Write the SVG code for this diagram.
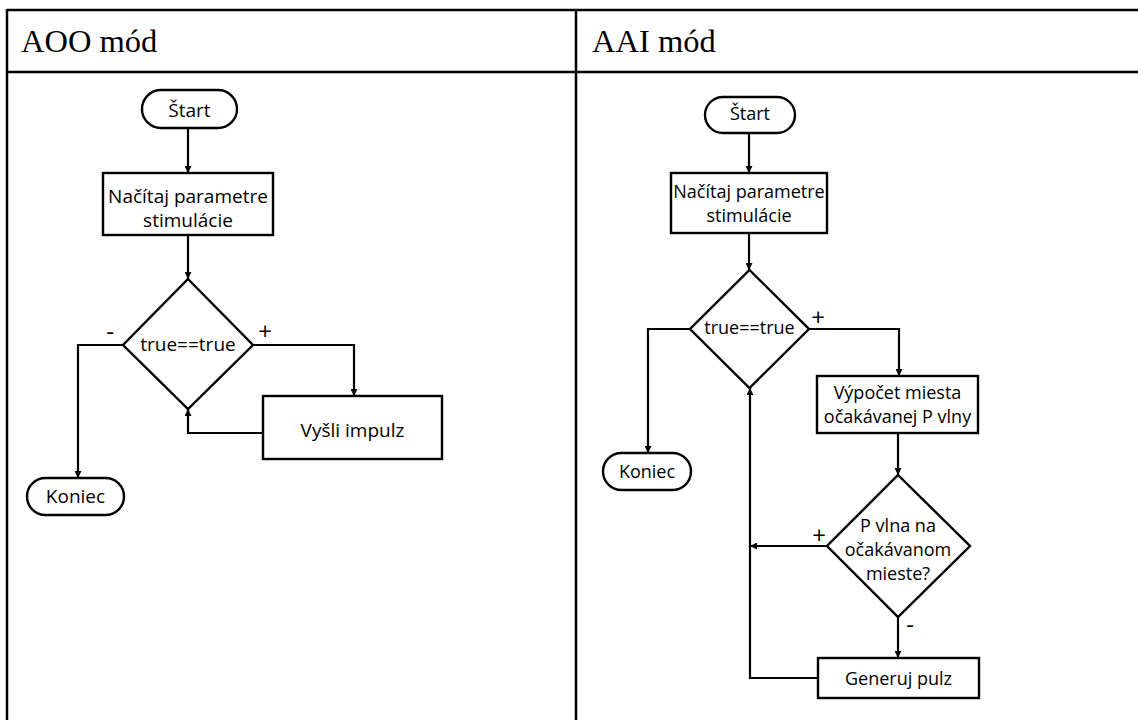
<svg xmlns="http://www.w3.org/2000/svg" width="1138" height="720" viewBox="0 0 1138 720">
<defs>
<marker id="arr" viewBox="0 0 10 10" refX="10" refY="5" markerWidth="7" markerHeight="7" markerUnits="userSpaceOnUse" orient="auto">
<path d="M0,0 L10,5 L0,10 z" fill="#000"/>
</marker>
<style>
.tbl{stroke:#000;stroke-width:2.5;fill:none}
.hd{font-family:"Liberation Serif",serif;font-size:32.5px;fill:#000}
.sh{fill:#fff;stroke:#000;stroke-width:2.4}
.c{fill:none;stroke:#000;stroke-width:2.2;marker-end:url(#arr)}
.t{font-family:"Open Sans","Liberation Sans",sans-serif;font-size:19px;fill:#000;text-anchor:middle}
.t2{font-family:"Open Sans","Liberation Sans",sans-serif;font-size:18px;fill:#000;text-anchor:middle}
.lb{font-family:"Open Sans","Liberation Sans",sans-serif;font-size:24px;fill:#000;text-anchor:middle}
</style>
</defs>
<rect width="1138" height="720" fill="#fff"/>
<g id="table">
<line class="tbl" x1="7" y1="10" x2="1138" y2="10"/>
<line class="tbl" x1="7" y1="72" x2="1138" y2="72"/>
<line class="tbl" x1="7" y1="9" x2="7" y2="720"/>
<line class="tbl" x1="576" y1="9" x2="576" y2="720"/>
<text class="hd" x="21" y="52">AOO mód</text>
<text class="hd" x="592" y="52">AAI mód</text>
</g>
<g id="connectors">
<line class="c" x1="188" y1="128" x2="188" y2="173"/>
<line class="c" x1="188" y1="235" x2="188" y2="279"/>
<polyline class="c" points="123,345 78,345 78,478"/>
<polyline class="c" points="253,345 354,345 354,396"/>
<polyline class="c" points="263,433 188,433 188,409"/>
<line class="c" x1="749" y1="133" x2="749" y2="173"/>
<line class="c" x1="749" y1="233" x2="749" y2="270"/>
<polyline class="c" points="690,329 648,329 648,453"/>
<polyline class="c" points="809,329 899,329 899,376"/>
<line class="c" x1="898" y1="433" x2="898" y2="475"/>
<line class="c" x1="827" y1="546" x2="750" y2="546"/>
<line class="c" x1="898" y1="617" x2="898" y2="658"/>
<polyline class="c" points="818,678 750,678 750,388"/>
<text class="lb" x="110" y="340">-</text>
<text class="lb" x="265" y="340">+</text>
<text class="lb" x="818" y="326">+</text>
<text class="lb" x="819" y="544">+</text>
<text class="lb" x="910" y="633">-</text>
</g>
<g id="l-start">
<rect class="sh" x="142" y="90" width="95" height="38" rx="19"/>
<text class="t" x="189.5" y="117">Štart</text>
</g>
<g id="l-load">
<rect class="sh" x="103" y="173" width="170" height="62"/>
<text class="t" x="188" y="203">Načítaj parametre</text>
<text class="t" x="188" y="227">stimulácie</text>
</g>
<g id="l-cond">
<polygon class="sh" points="188,279 253,345 188,409 123,345"/>
<text class="t" x="188" y="351">true==true</text>
</g>
<g id="l-pulse">
<rect class="sh" x="263" y="396" width="179" height="63"/>
<text class="t" x="352.5" y="437">Vyšli impulz</text>
</g>
<g id="l-end">
<rect class="sh" x="27" y="478" width="97" height="37" rx="18.5"/>
<text class="t" x="75.5" y="503">Koniec</text>
</g>
<g id="r-start">
<rect class="sh" x="705" y="97" width="90" height="36" rx="18"/>
<text class="t2" x="750" y="120">Štart</text>
</g>
<g id="r-load">
<rect class="sh" x="671" y="173" width="156" height="60"/>
<text class="t2" x="749" y="198">Načítaj parametre</text>
<text class="t2" x="749" y="222">stimulácie</text>
</g>
<g id="r-cond">
<polygon class="sh" points="749.5,270 809,329 749.5,388 690,329"/>
<text class="t2" x="749.5" y="334">true==true</text>
</g>
<g id="r-calc">
<rect class="sh" x="817" y="376" width="161" height="57"/>
<text class="t2" x="897.5" y="399">Výpočet miesta</text>
<text class="t2" x="897.5" y="423">očakávanej P vlny</text>
</g>
<g id="r-pwave">
<polygon class="sh" points="898,475 970,546 898,617 827,546"/>
<text class="t2" x="898" y="532">P vlna na</text>
<text class="t2" x="898" y="556">očakávanom</text>
<text class="t2" x="898" y="580">mieste?</text>
</g>
<g id="r-gen">
<rect class="sh" x="818" y="658" width="161" height="40"/>
<text class="t2" x="898.5" y="685">Generuj pulz</text>
</g>
<g id="r-end">
<rect class="sh" x="603" y="453" width="88" height="37" rx="18.5"/>
<text class="t2" x="647" y="478">Koniec</text>
</g>
</svg>
